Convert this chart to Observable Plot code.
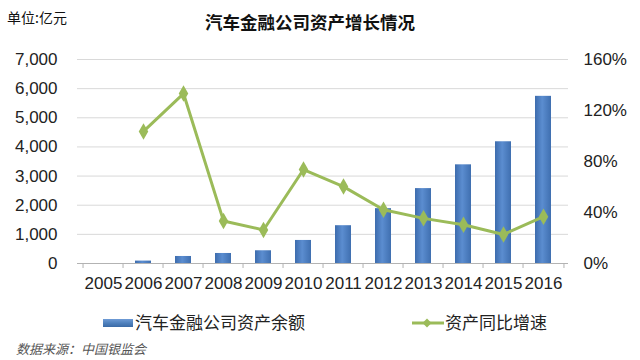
<!DOCTYPE html>
<html>
<head>
<meta charset="utf-8">
<script src="https://cdn.jsdelivr.net/npm/d3@7"></script>
<script src="https://cdn.jsdelivr.net/npm/@observablehq/plot@0.6"></script>
<style>
  html, body { margin: 0; padding: 0; background: #fff; }
  #wrap { position: relative; width: 640px; height: 360px; overflow: hidden; font-family: "Liberation Sans", Arial, "Noto Sans CJK SC", sans-serif; }
  .abs { position: absolute; white-space: nowrap; line-height: 1; }
  #unit { left: 7px; top: 10px; font-size: 14px; font-family: "Noto Sans CJK SC", sans-serif; color: #111; }
  #title { left: 205px; top: 13px; font-size: 17.5px; font-weight: bold; font-family: "Noto Sans CJK SC", sans-serif; color: #111; }
  .leg { font-size: 17px; font-family: "Noto Sans CJK SC", sans-serif; color: #222; top: 313px; }
  #source { left: 16px; top: 342px; font-size: 13px; font-style: italic; font-family: "Noto Sans CJK SC", sans-serif; color: #555; }
  #chart { position: absolute; left: 0; top: 0; }
</style>
</head>
<body>
<div id="wrap">
  <div id="chart"></div>
  <div class="abs" id="unit">单位:亿元</div>
  <div class="abs" id="title">汽车金融公司资产增长情况</div>
  <svg class="abs" style="left:103px;top:318px" width="31" height="10">
    <defs>
      <linearGradient id="legGrad" x1="0" x2="0" y1="0" y2="1">
        <stop offset="0" stop-color="#6f9bd6"/>
        <stop offset="0.5" stop-color="#4f81bd"/>
        <stop offset="1" stop-color="#3a6aa6"/>
      </linearGradient>
    </defs>
    <rect x="0" y="1" width="30" height="8" fill="url(#legGrad)"/>
  </svg>
  <div class="abs leg" style="left:135px">汽车金融公司资产余额</div>
  <svg class="abs" style="left:410px;top:316px" width="36" height="14">
    <line x1="2" x2="34" y1="7" y2="7" stroke="#9bbb59" stroke-width="3"/>
    <path d="M17,2.5 L21.5,7 L17,11.5 L12.5,7 Z" fill="#9bbb59"/>
  </svg>
  <div class="abs leg" style="left:445px">资产同比增速</div>
  <div class="abs" id="source">数据来源：中国银监会</div>
</div>
<script>
const years = ["2005","2006","2007","2008","2009","2010","2011","2012","2013","2014","2015","2016"];
const assets = [0, 83, 241, 344, 437, 791, 1297, 1882, 2570, 3386, 4177, 5736];
const growthYears = ["2006","2007","2008","2009","2010","2011","2012","2013","2014","2015","2016"];
const growth = [103.6, 133.3, 33.4, 26.3, 73.7, 60.3, 42.2, 35.4, 30.4, 22.8, 36.7];
const leftTicks = [0, 1000, 2000, 3000, 4000, 5000, 6000, 7000];
const rightTicks = [0, 40, 80, 120, 160];

const yMax = 7000, pMax = 160;
const k = yMax / pMax; // map percent onto left scale

const barData = years.map((y, i) => ({year: y, value: assets[i]}));
const lineData = growthYears.map((y, i) => ({year: y, pct: growth[i]}));

const W = 640, H = 300, mL = 77, mR = 72, mT = 59, mB = 37;
const step = (W - mL - mR) / years.length;
const plotH = H - mT - mB;
const tickLen = 5 * yMax / plotH;

const chart = Plot.plot({
  width: W, height: H,
  marginLeft: mL, marginRight: mR, marginTop: mT, marginBottom: mB,
  style: {fontFamily: "'Liberation Sans', Arial, sans-serif", fontSize: "17px", color: "#222", background: "transparent"},
  x: {domain: years, paddingInner: 0.6, paddingOuter: 0.3, axis: null, label: null},
  y: {domain: [0, yMax], axis: null, label: null},
  marks: [
    Plot.gridY(leftTicks.filter(d => d > 0), {stroke: "#d9d9d9", strokeOpacity: 1}),
    Plot.barY(barData, {x: "year", y: "value", fill: "url(#barGrad)"}),
    Plot.ruleY([0], {stroke: "#b3b3b3"}),
    Plot.ruleX(years, {x: d => d, dx: -step / 2, y1: 0, y2: -tickLen, stroke: "#b3b3b3"}),
    Plot.ruleX([years[years.length - 1]], {x: d => d, dx: step / 2, y1: 0, y2: -tickLen, stroke: "#b3b3b3"}),
    Plot.axisX({tickSize: 0, tickPadding: 13, fontSize: 17, fill: "#222", label: null}),
    Plot.axisY({anchor: "left", ticks: leftTicks, tickSize: 0, tickPadding: 20, tickFormat: d3.format(","), fontSize: 17, fill: "#222", label: null}),
    Plot.axisY({anchor: "right", ticks: rightTicks.map(p => p * k), tickSize: 0, tickPadding: 15, tickFormat: d => Math.round(d / k) + "%", fontSize: 17, fill: "#222", label: null}),
    Plot.line(lineData, {x: "year", y: d => d.pct * k, stroke: "#9bbb59", strokeWidth: 3}),
    Plot.dot(lineData, {x: "year", y: d => d.pct * k, symbol: "diamond", r: 5, fill: "#9bbb59", stroke: "none"})
  ]
});

const defs = d3.select(chart).insert("defs", ":first-child");
const g = defs.append("linearGradient").attr("id", "barGrad").attr("x1", 0).attr("x2", 1).attr("y1", 0).attr("y2", 0);
g.append("stop").attr("offset", 0).attr("stop-color", "#3d6cad");
g.append("stop").attr("offset", 0.45).attr("stop-color", "#5b8dd0");
g.append("stop").attr("offset", 1).attr("stop-color", "#3f6fb0");

document.getElementById("chart").appendChild(chart);
</script>
</body>
</html>
